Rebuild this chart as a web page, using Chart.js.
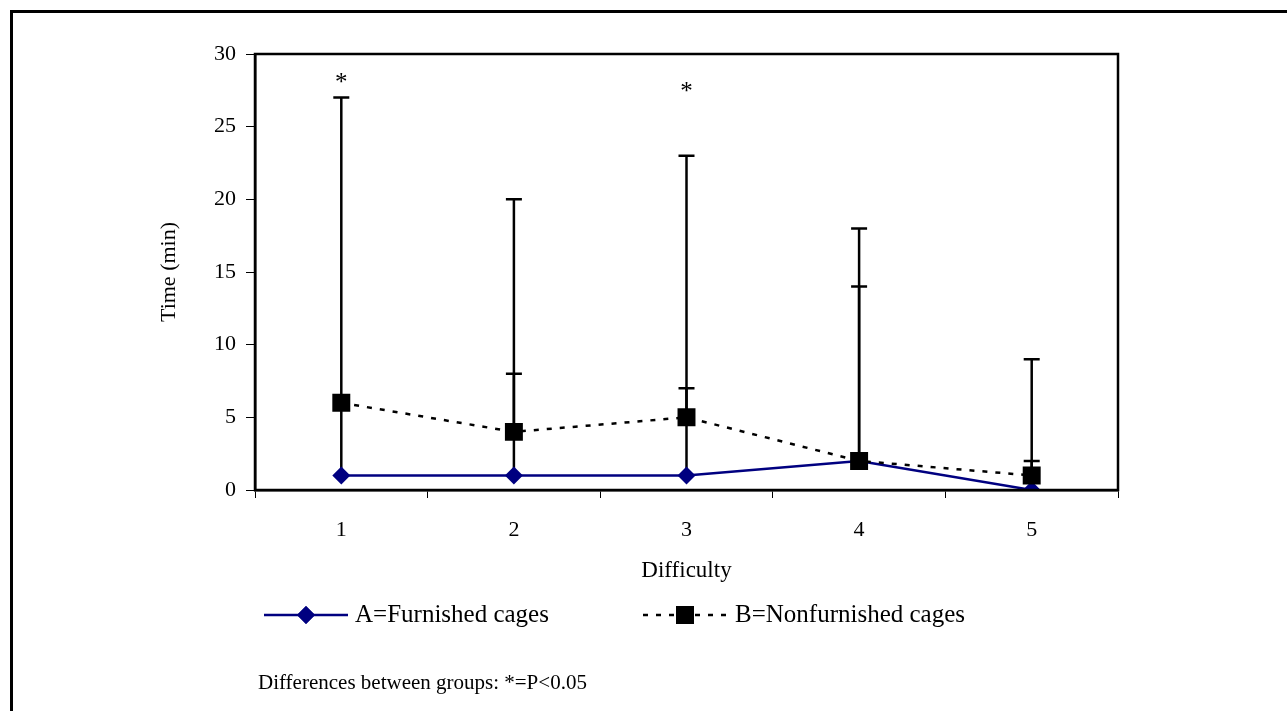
<!DOCTYPE html>
<html>
<head>
<meta charset="utf-8">
<script src="https://cdn.jsdelivr.net/npm/chart.js@4.4.0/dist/chart.umd.min.js"></script>
<style>
    html, body { margin: 0; padding: 0; background: #fff; }
    #wrap { position: relative; width: 1287px; height: 711px; overflow: hidden; }
    #frame { position: absolute; left: 10px; top: 10px; width: 1300px; height: 720px; border: 3px solid #000; box-sizing: border-box; }
    #chart { position: absolute; left: 0; top: 0; }
</style>
</head>
<body>
<div id="wrap">
    <div id="frame"></div>
    <canvas id="chart" width="1287" height="711"></canvas>
</div>
<script>
// --- Data ---
const categories = ['1', '2', '3', '4', '5'];
const furnished = [1, 1, 1, 2, 0];           // A
const furnishedUpper = [6, 8, 7, 14, 2];     // top of A error bar
const nonfurnished = [6, 4, 5, 2, 1];        // B
const nonfurnishedUpper = [27, 20, 23, 18, 9]; // top of B error bar
const starCategories = ['1', '3'];
const starValues = [28.3, 27.7];
const yTicks = [0, 5, 10, 15, 20, 25, 30];

const FONT = 'Liberation Serif, Times New Roman, serif';
const NAVY = '#000080';

// error bars drawn behind the markers
const errorBarPlugin = {
    id: 'errorBars',
    beforeDatasetsDraw(chart) {
        const { ctx, scales: { x, y } } = chart;
        const uppers = [furnishedUpper, nonfurnishedUpper];
        ctx.save();
        ctx.strokeStyle = '#000';
        ctx.lineWidth = 2.5;
        chart.data.datasets.forEach((ds, di) => {
            ds.data.forEach((v, i) => {
                const px = x.getPixelForValue(i);
                const y0 = y.getPixelForValue(v);
                const y1 = y.getPixelForValue(uppers[di][i]);
                ctx.beginPath();
                ctx.moveTo(px, y0);
                ctx.lineTo(px, y1);
                ctx.moveTo(px - 8, y1);
                ctx.lineTo(px + 8, y1);
                ctx.stroke();
            });
        });
        ctx.restore();
    }
};

// plot box, asterisks, legend and footnote
const decorPlugin = {
    id: 'decor',
    afterDraw(chart) {
        const { ctx, chartArea: a, scales: { x, y } } = chart;
        ctx.save();
        ctx.strokeStyle = '#000';
        ctx.lineWidth = 2.5;
        ctx.strokeRect(a.left, a.top, a.right - a.left, a.bottom - a.top);

        ctx.fillStyle = '#000';
        ctx.font = `25px ${FONT}`;
        ctx.textAlign = 'center';
        ctx.textBaseline = 'middle';
        starCategories.forEach((c, i) => {
            ctx.fillText('*', x.getPixelForValue(categories.indexOf(c)), y.getPixelForValue(starValues[i]) + 5);
        });

        // legend
        const ly = 615;
        const dsA = chart.data.datasets[0];
        const dsB = chart.data.datasets[1];
        ctx.textAlign = 'left';
        ctx.font = `25px ${FONT}`;

        ctx.strokeStyle = dsA.borderColor;
        ctx.lineWidth = 2.5;
        ctx.beginPath();
        ctx.moveTo(264, ly);
        ctx.lineTo(348, ly);
        ctx.stroke();
        ctx.fillStyle = dsA.pointBackgroundColor;
        Chart.helpers.drawPoint(ctx, { pointStyle: 'rectRot', radius: 9, borderWidth: 0 }, 306, ly);
        ctx.fill();
        ctx.fillStyle = '#000';
        ctx.fillText(dsA.label, 355, ly);

        ctx.strokeStyle = '#000';
        ctx.setLineDash(dsB.borderDash);
        ctx.beginPath();
        ctx.moveTo(643, ly);
        ctx.lineTo(727, ly);
        ctx.stroke();
        ctx.setLineDash([]);
        Chart.helpers.drawPoint(ctx, { pointStyle: 'rect', radius: 12.7, borderWidth: 0 }, 685, ly);
        ctx.fill();
        ctx.fillText(dsB.label, 735, ly);

        ctx.font = `21px ${FONT}`;
        ctx.fillText('Differences between groups: *=P<0.05', 258, 683);
        ctx.restore();
    }
};

new Chart(document.getElementById('chart'), {
    type: 'line',
    data: {
        labels: categories,
        datasets: [
            {
                label: 'A=Furnished cages',
                data: furnished,
                borderColor: NAVY,
                borderWidth: 2.5,
                pointStyle: 'rectRot',
                pointRadius: 9,
                pointBackgroundColor: NAVY,
                pointBorderWidth: 0,
                tension: 0,
                order: 2
            },
            {
                label: 'B=Nonfurnished cages',
                data: nonfurnished,
                borderColor: '#000',
                borderWidth: 2.5,
                borderDash: [5, 8],
                pointStyle: 'rect',
                pointRadius: 12.7,
                pointBackgroundColor: '#000',
                pointBorderWidth: 0,
                tension: 0,
                order: 1
            }
        ]
    },
    options: {
        responsive: false,
        animation: false,
        layout: { padding: { left: 156, top: 54, right: 169, bottom: 126 } },
        plugins: { legend: { display: false }, tooltip: { enabled: false } },
        scales: {
            x: {
                offset: true,
                grid: { offset: true, drawOnChartArea: false, drawTicks: true, tickLength: 8, color: '#000', lineWidth: 1 },
                border: { color: '#000', width: 2.5 },
                ticks: { color: '#000', font: { family: FONT, size: 22 }, padding: 19 },
                title: { display: true, text: 'Difficulty', color: '#000', font: { family: FONT, size: 23 }, padding: { top: 0, bottom: 0 } },
                afterFit(scale) { scale.height = 95; }
            },
            y: {
                min: 0,
                max: 30,
                afterBuildTicks(scale) { scale.ticks = yTicks.map(v => ({ value: v })); },
                grid: { drawOnChartArea: false, drawTicks: true, tickLength: 9, color: '#000', lineWidth: 1 },
                border: { color: '#000', width: 2.5 },
                ticks: { color: '#000', font: { family: FONT, size: 22 }, padding: 10 },
                title: { display: true, text: 'Time (min)', color: '#000', font: { family: FONT, size: 22 }, padding: { top: 0, bottom: 0 } },
                afterFit(scale) { scale.width = 99; }
            }
        }
    },
    plugins: [errorBarPlugin, decorPlugin]
});
</script>
</body>
</html>
